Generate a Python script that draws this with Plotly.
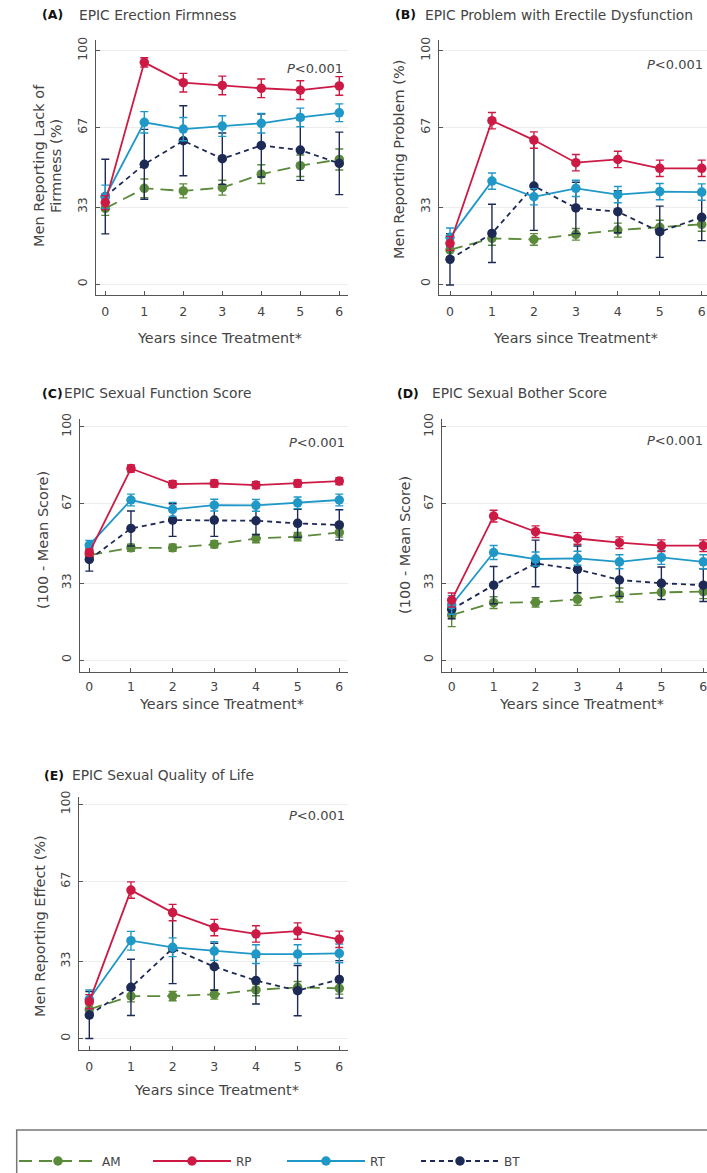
import plotly.graph_objects as go

W, H = 707, 1173

YEARS = [0, 1, 2, 3, 4, 5, 6]
SERIES = ["AM", "RP", "RT", "BT"]
Y_TICKS = [0, 33, 67, 100]

# Panel A: EPIC Erection Firmness
A_AM = [32.4, 41.0, 39.9, 41.3, 47.1, 50.7, 53.4]
A_AM_ERR = [3, 4, 3, 3.2, 4, 4.6, 4.5]
A_RP = [34.9, 95.0, 86.3, 85.1, 83.9, 83.1, 84.9]
A_RP_ERR = [3, 2, 4, 4, 4, 4, 4]
A_RT = [37.4, 69.3, 66.4, 67.7, 68.9, 71.4, 73.4]
A_RT_ERR = [5, 4.6, 5, 4.4, 4.2, 4, 3.8]
A_BT = [37.5, 51.3, 61.4, 53.7, 59.4, 57.4, 51.7]
A_BT_ERR = [16, 15, 15, 11, 13.5, 13, 13.4]

# Panel B: EPIC Problem with Erectile Dysfunction
B_AM = [14.6, 19.6, 19.1, 21.3, 23.1, 24.3, 25.6]
B_AM_ERR = [3, 3, 2.5, 2.5, 3, 3, 3]
B_RP = [17.4, 70.0, 61.7, 52.0, 53.4, 49.6, 49.6]
B_RP_ERR = [3, 3.5, 3.5, 3.5, 3.5, 3.5, 3.5]
B_RT = [20.0, 44.1, 37.4, 41.0, 38.3, 39.6, 39.4]
B_RT_ERR = [4, 3.5, 3.5, 3.5, 3.5, 3.5, 3.5]
B_BT = [10.6, 21.7, 42.0, 32.6, 31.0, 22.4, 28.6]
B_BT_ERR = [11, 12.5, 19, 11, 9, 11, 10]

# Panel C: EPIC Sexual Function Score
C_AM = [45.0, 48.1, 48.1, 49.6, 52.1, 52.9, 54.7]
C_AM_ERR = [2, 1.5, 1.5, 1.5, 1.8, 1.8, 2]
C_RP = [46.0, 82.1, 75.4, 75.7, 75.0, 75.7, 76.7]
C_RP_ERR = [1.5, 1.5, 1.5, 1.5, 1.5, 1.5, 1.5]
C_RT = [49.3, 68.6, 64.6, 66.4, 66.3, 67.4, 68.6]
C_RT_ERR = [2, 2.5, 3, 2.5, 2.5, 2.5, 2.5]
C_BT = [43.1, 56.4, 60.0, 60.0, 59.7, 58.6, 57.9]
C_BT_ERR = [5, 7.5, 7, 7, 6, 6, 6.5]

# Panel D: EPIC Sexual Bother Score
D_AM = [19.3, 24.6, 24.7, 26.0, 27.9, 29.0, 29.3]
D_AM_ERR = [5, 2.5, 2, 2.5, 3, 3, 3]
D_RP = [25.7, 61.7, 55.0, 52.1, 50.3, 49.0, 49.0]
D_RP_ERR = [3, 2.5, 2.5, 2.5, 2.5, 2.5, 2.5]
D_RT = [23.6, 46.1, 43.3, 43.6, 42.1, 44.0, 42.1]
D_RT_ERR = [4, 3, 3, 3, 3, 3, 3]
D_BT = [21.7, 32.1, 41.4, 38.9, 34.3, 32.9, 32.1]
D_BT_ERR = [4, 8, 10, 10, 7, 7, 7]

# Panel E: EPIC Sexual Quality of Life
E_AM = [12.5, 18.2, 18.2, 18.9, 20.8, 21.9, 21.5]
E_AM_ERR = [2, 2.5, 2, 2, 2.5, 2.5, 2.5]
E_RP = [15.8, 63.4, 53.8, 47.4, 44.7, 45.9, 42.4]
E_RP_ERR = [3, 3.5, 3.5, 3.5, 3.5, 3.5, 3.5]
E_RT = [16.8, 41.8, 39.0, 37.4, 36.1, 36.1, 36.4]
E_RT_ERR = [4, 4, 4, 4, 4, 4, 4]
E_BT = [10.1, 21.9, 38.5, 30.7, 24.8, 20.5, 25.3]
E_BT_ERR = [10, 12, 15, 10, 10, 10.7, 8]

PANEL_LETTERS = ["(A)", "(B)", "(C)", "(D)", "(E)"]
PANEL_TITLES = ["EPIC Erection Firmness", "EPIC Problem with Erectile Dysfunction",
                "EPIC Sexual Function Score", "EPIC Sexual Bother Score",
                "EPIC Sexual Quality of Life"]
Y_TITLES = [["Men Reporting Lack of", "Firmness (%)"], ["Men Reporting Problem (%)"],
            ["(100 - Mean Score)"], ["(100 - Mean Score)"], ["Men Reporting Effect (%)"]]
X_TITLE = "Years since Treatment*"
P_TEXT = "<i>P</i>&lt;0.001"

COLORS = {"AM": "#5b8a3a", "RP": "#cc1a45", "RT": "#1f98c8", "BT": "#1d2a55"}
DASHES = {"AM": "13px,7px", "RP": "solid", "RT": "solid", "BT": "5px,4px"}
DRAW_ORDER = ["AM", "BT", "RT", "RP"]

DATA = [
    {"AM": (A_AM, A_AM_ERR), "RP": (A_RP, A_RP_ERR), "RT": (A_RT, A_RT_ERR), "BT": (A_BT, A_BT_ERR)},
    {"AM": (B_AM, B_AM_ERR), "RP": (B_RP, B_RP_ERR), "RT": (B_RT, B_RT_ERR), "BT": (B_BT, B_BT_ERR)},
    {"AM": (C_AM, C_AM_ERR), "RP": (C_RP, C_RP_ERR), "RT": (C_RT, C_RT_ERR), "BT": (C_BT, C_BT_ERR)},
    {"AM": (D_AM, D_AM_ERR), "RP": (D_RP, D_RP_ERR), "RT": (D_RT, D_RT_ERR), "BT": (D_BT, D_BT_ERR)},
    {"AM": (E_AM, E_AM_ERR), "RP": (E_RP, E_RP_ERR), "RT": (E_RT, E_RT_ERR), "BT": (E_BT, E_BT_ERR)},
]

# Layout geometry (pixels): axis left/right, x-range, axis top/bottom, y-range
GEOM = [
    dict(l=95.7, r=348, xr=[-0.246, 6.223], t=40, b=295, yr=[-4.71, 104.59]),
    dict(l=439.3, r=707, xr=[-0.255, 6.126], t=40, b=295, yr=[-4.71, 104.59]),
    dict(l=80, r=348, xr=[-0.223, 6.209], t=419.3, b=671.7, yr=[-5.01, 103.2]),
    dict(l=442.3, r=707, xr=[-0.224, 6.088], t=419.3, b=671.7, yr=[-5.01, 103.2]),
    dict(l=79.3, r=348, xr=[-0.24, 6.209], t=796.7, b=1050, yr=[-4.82, 103.24]),
]
LETTER_POS = [(40, 15, 77), (393, 15, 423), (40, 393, 62), (395, 393, 430), (42, 775, 70)]
YTITLE_POS = [[(39, 166), (56, 166)], [(399, 159)], [(43, 540)], [(405, 545)], [(40, 926)]]
XTITLE_POS = [(220, 338), (575, 338), (221, 704), (581, 704), (216, 1090)]
P_POS = [(345, 68), (705, 65), (347, 442), (705, 441), (347, 815)]
XTICK_STANDOFF = [5, 5, 3, 3, 5]

FONT = "'DejaVu Sans', sans-serif"
TXT = "#444444"


def px(x):
    return x / W


def py(y):
    return 1 - y / H


fig = go.Figure()
layout = dict(width=W, height=H, margin=dict(l=0, r=0, t=0, b=0, autoexpand=False),
              paper_bgcolor="white", plot_bgcolor="white",
              font=dict(family=FONT, size=13, color=TXT))
annotations = []

for i, g in enumerate(GEOM):
    n = "" if i == 0 else str(i + 1)
    xa, ya = "x" + n, "y" + n
    for s in DRAW_ORDER:
        vals, errs = DATA[i][s]
        fig.add_trace(go.Scatter(
            x=YEARS, y=vals, xaxis=xa, yaxis=ya, name=s,
            mode="lines+markers", cliponaxis=False,
            showlegend=(i == 0), legendrank=SERIES.index(s) + 1,
            line=dict(color=COLORS[s], width=1.8, dash=DASHES[s]),
            marker=dict(color=COLORS[s], size=9.5),
            error_y=dict(type="data", array=errs, color=COLORS[s], thickness=1.4, width=4),
        ))
    axcommon = dict(showline=True, linecolor="#555", linewidth=1.2, ticks="inside",
                    ticklen=4, tickcolor="#555", zeroline=False, ticklabeloverflow="allow",
                    tickfont=dict(family=FONT, size=12.5, color=TXT))
    layout["xaxis" + n] = dict(axcommon, domain=[px(g["l"]), px(g["r"])], range=g["xr"],
                               anchor=ya, tickvals=YEARS, showgrid=False,
                               ticklabelstandoff=XTICK_STANDOFF[i])
    layout["yaxis" + n] = dict(axcommon, domain=[py(g["b"]), py(g["t"])], range=g["yr"],
                               anchor=xa, tickvals=Y_TICKS, showgrid=True,
                               gridcolor="#ececec", gridwidth=1, tickangle=-90,
                               ticklabelstandoff=3)
    lx, ly, tx = LETTER_POS[i]
    annotations.append(dict(text="<b>" + PANEL_LETTERS[i] + "</b>", x=px(lx), y=py(ly),
                            xref="paper", yref="paper", xanchor="left", yanchor="middle",
                            showarrow=False, font=dict(family=FONT, size=12.5, color="#111")))
    annotations.append(dict(text=PANEL_TITLES[i], x=px(tx), y=py(ly),
                            xref="paper", yref="paper", xanchor="left", yanchor="middle",
                            showarrow=False, font=dict(family=FONT, size=13.8, color=TXT)))
    for line_text, (yx, yy) in zip(Y_TITLES[i], YTITLE_POS[i]):
        annotations.append(dict(text=line_text, x=px(yx), y=py(yy), xref="paper", yref="paper",
                                xanchor="center", yanchor="middle", textangle=-90,
                                showarrow=False, font=dict(family=FONT, size=14.5, color=TXT)))
    xx, xy = XTITLE_POS[i]
    annotations.append(dict(text=X_TITLE, x=px(xx), y=py(xy), xref="paper", yref="paper",
                            xanchor="center", yanchor="middle", showarrow=False,
                            font=dict(family=FONT, size=14.3, color=TXT)))
    ppx, ppy = P_POS[i]
    annotations.append(dict(text=P_TEXT, x=px(ppx), y=py(ppy), xref="paper", yref="paper",
                            xanchor="right", yanchor="middle", showarrow=False,
                            font=dict(family=FONT, size=13, color=TXT)))

layout["annotations"] = annotations
layout["shapes"] = [dict(type="rect", xref="paper", yref="paper",
                         x0=px(16.7), x1=px(730), y0=py(1130), y1=py(1190),
                         line=dict(color="#777", width=1.5), fillcolor="rgba(0,0,0,0)")]
layout["legend"] = dict(orientation="h", x=px(14), y=py(1161), xanchor="left", yanchor="middle",
                        entrywidth=41, entrywidthmode="pixels", itemwidth=78,
                        bgcolor="rgba(0,0,0,0)", borderwidth=0,
                        font=dict(family=FONT, size=12, color=TXT), traceorder="normal")
fig.update_layout(**layout)
fig.write_html("out.html")
